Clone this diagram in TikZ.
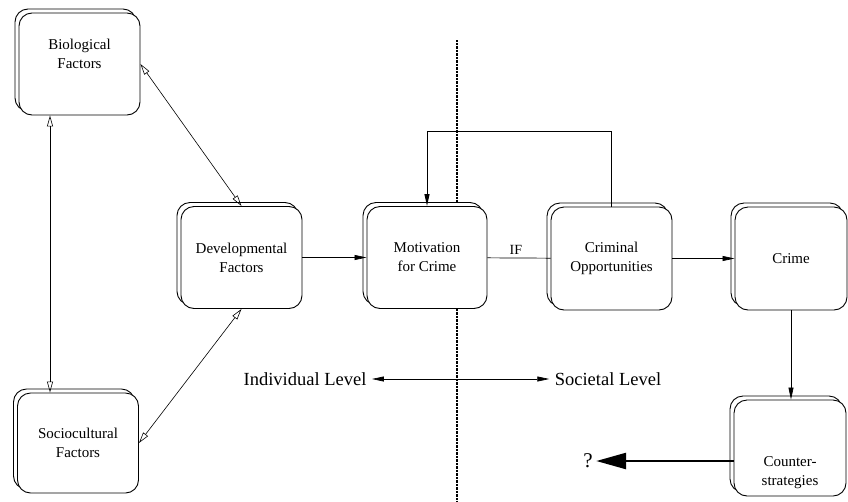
\documentclass[tikz,border=0pt]{standalone}
\usepackage{fontspec}
\setmainfont{Liberation Serif}
\usetikzlibrary{arrows.meta, shadows, positioning}

\begin{document}
\begin{tikzpicture}[
  x=1pt, y=-1pt,
  factor/.style={draw, line width=0.9pt, rounded corners=13pt, fill=white,
                 minimum width=121pt, minimum height=102pt, align=center,
                 font=\fontsize{15}{19}\selectfont,
                 copy shadow={shadow xshift=-4pt, shadow yshift=4pt, line width=0.9pt}},
  inner/.style={align=center, font=\fontsize{15}{19}\selectfont},
  link/.style={{Triangle[open,length=11pt,width=6pt]}-{Triangle[open,length=11pt,width=6pt]},
               line width=0.6pt},
  arr/.style={-{Triangle[length=12pt,width=5pt]}, line width=0.7pt},
  bigarr/.style={-{Triangle[length=30pt,width=16pt]}, line width=2.6pt},
  divider/.style={line width=2.4pt, dash pattern=on 0.8pt off 0.6pt},
  lvl/.style={font=\fontsize{18.5}{22}\selectfont}
]
  \useasboundingbox (0,0) rectangle (848,501);

  \coordinate (divtop) at (457,40);
  \coordinate (divbot) at (457,501);
  \draw[divider] (divtop) -- (divbot);

  % individual side
  \node[factor, label={[inner, yshift=10pt]center:{Biological\\Factors}}] (bio) at (79.5,64) {};
  \node[factor, minimum height=100pt] (soc) at (78,443) {Sociocultural\\Factors};
  \node[factor] (dev) at (241.5,257.5) {Developmental\\Factors};
  \node[factor, minimum width=120pt] (mot) at (427,257.5) {Motivation\\for Crime};

  % societal side
  \node[factor, minimum height=103pt] (opp) at (611.5,258.5) {Criminal\\Opportunities};
  \node[factor, minimum width=112pt, minimum height=103pt] (crime) at (791,258.5) {Crime};
  \node[factor, minimum width=112pt, minimum height=96pt,
        label={[inner, yshift=-25pt]center:{Counter-\\strategies}}] (counter) at (790,448) {};

  \node[lvl] (indiv) at (305,379) {Individual Level};
  \node[lvl] (societal) at (608,379) {Societal Level};
  \node[font=\fontsize{21}{24}\selectfont] (q) at (588,461) {?};

  \coordinate (vx) at (50,0);

  \draw[link] (bio.south -| vx) -- (soc.north -| vx);
  \draw[link] (bio.east) -- (dev.north);
  \draw[link] (soc.east) -- (dev.south);

  \draw[arr] (dev) -- (mot);
  \draw[line width=0.7pt] (mot) -- node[above, pos=0.45, font=\fontsize{14}{16}\selectfont]{IF} (opp);
  \draw[arr, line width=1pt] (opp.north) -- ++(0,-75) -| (mot.north);
  \draw[arr] (opp) -- (crime);
  \draw[arr] (crime.south) -- (crime.south |- counter.north);
  \draw[bigarr] (q -| counter.west) -- (q);

  \draw[{Triangle[length=12pt,width=5pt]}-{Triangle[length=12pt,width=5pt]}, line width=0.7pt,
        shorten <=2pt, shorten >=2pt]
    (indiv) -- (societal);
\end{tikzpicture}
\end{document}
